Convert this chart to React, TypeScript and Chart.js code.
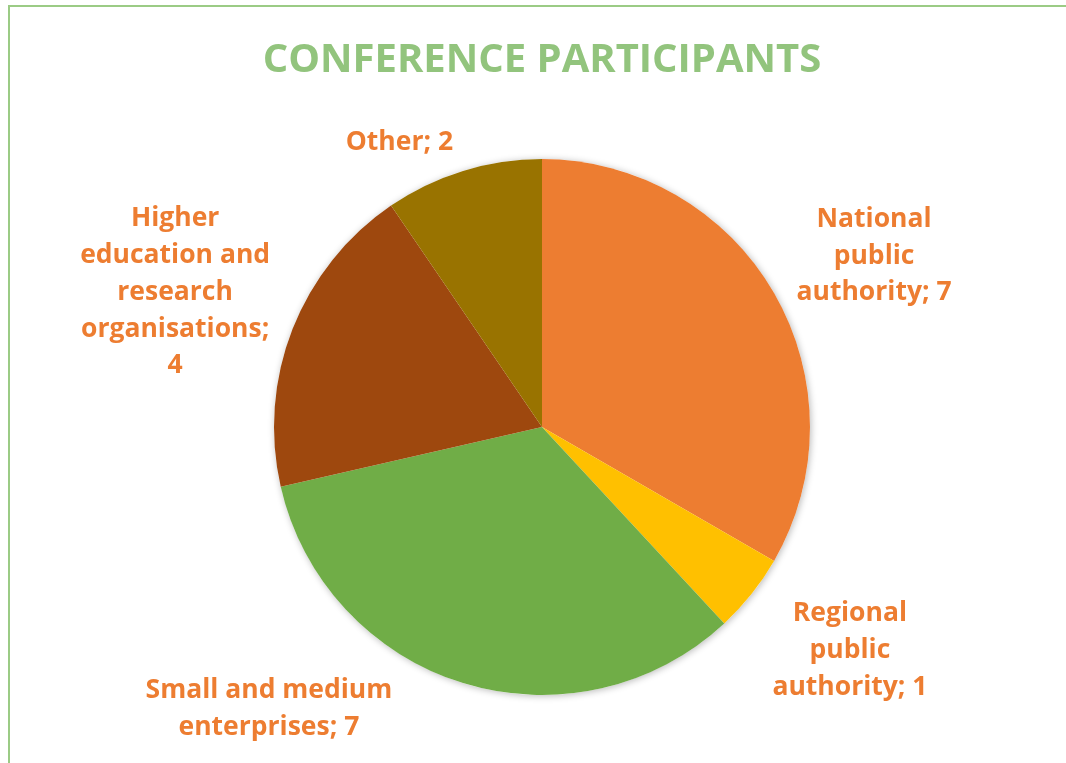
import React, { useEffect, useRef } from 'react';
import { Chart, registerables } from 'chart.js';

Chart.register(...registerables);

const titleText = 'CONFERENCE PARTICIPANTS';
const categories = [
  'National public authority',
  'Regional public authority',
  'Small and medium enterprises',
  'Higher education and research organisations',
  'Other',
];
const values = [7, 1, 7, 4, 2];
const sliceColors = ['#ED7D31', '#FFC000', '#70AD47', '#9E480E', '#997300'];
// line breaks of each data label; {v} is replaced by the value
const labelLines = [
  ['National', 'public', 'authority; {v}'],
  ['Regional', 'public', 'authority; {v}'],
  ['Small and medium', 'enterprises; {v}'],
  ['Higher', 'education and', 'research', 'organisations;', '{v}'],
  ['Other; {v}'],
];

const LABEL_COLOR = '#ED7D31';
const TITLE_COLOR = '#92C47D';
const FRAME_COLOR = '#9BCB85';

// label block centres, in units of the pie radius from the pie centre
const labelAnchors = [
  [1.239, -0.646],
  [1.149, 0.826],
  [-1.019, 1.045],
  [-1.369, -0.511],
  [-0.532, -1.069],
];

const labelPlugin = {
  id: 'pieDecor',
  beforeDatasetsDraw(chart: any) {
    const arc = chart.getDatasetMeta(0).data[0];
    if (!arc) return;
    const { x, y, outerRadius } = arc.getProps(['x', 'y', 'outerRadius'], true);
    const ctx = chart.ctx;
    ctx.save();
    ctx.shadowColor = 'rgba(0,0,0,0.28)';
    ctx.shadowBlur = 7;
    ctx.shadowOffsetX = 1;
    ctx.shadowOffsetY = 1;
    ctx.fillStyle = '#ffffff';
    ctx.beginPath();
    ctx.arc(x, y, outerRadius, 0, Math.PI * 2);
    ctx.fill();
    ctx.restore();
  },
  afterDraw(chart: any) {
    const ctx = chart.ctx;
    const meta = chart.getDatasetMeta(0);
    const arc0 = meta.data[0];
    if (!arc0) return;
    const { x, y, outerRadius } = arc0.getProps(['x', 'y', 'outerRadius'], true);

    // title
    ctx.save();
    ctx.font = 'bold 40px "Open Sans"';
    ctx.fillStyle = TITLE_COLOR;
    ctx.textAlign = 'center';
    ctx.textBaseline = 'alphabetic';
    ctx.fillText(titleText, x, 72);
    ctx.restore();

    // data labels
    const lh = 36.8;
    ctx.save();
    ctx.font = 'bold 26.5px "Open Sans"';
    ctx.fillStyle = LABEL_COLOR;
    ctx.textAlign = 'center';
    ctx.textBaseline = 'alphabetic';
    meta.data.forEach((_: any, i: number) => {
      const lines = labelLines[i].map((l) => l.replace('{v}', String(values[i])));
      const cx = x + labelAnchors[i][0] * outerRadius;
      const cy = y + labelAnchors[i][1] * outerRadius;
      const n = lines.length;
      lines.forEach((line, j) => {
        const by = cy - ((n - 1) / 2) * lh + j * lh + 9.7;
        ctx.fillText(line, cx, by);
      });
    });
    ctx.restore();
  },
};

export default function App() {
  const ref = useRef<HTMLCanvasElement | null>(null);

  useEffect(() => {
    if (!ref.current) return;
    const chart = new Chart(ref.current, {
      type: 'pie',
      data: {
        labels: categories,
        datasets: [
          {
            data: values,
            backgroundColor: sliceColors,
            borderWidth: 0,
          },
        ],
      },
      options: {
        responsive: false,
        animation: false,
        layout: { padding: { top: 159, bottom: 68, left: 274, right: 256 } },
        plugins: {
          legend: { display: false },
          tooltip: { enabled: false },
          title: { display: false },
        },
      },
      plugins: [labelPlugin],
    });
    return () => chart.destroy();
  }, []);

  return (
    <div style={{ position: 'fixed', left: 0, top: 0, width: 1066, height: 763, background: '#fff', overflow: 'hidden' }}>
      <canvas ref={ref} width={1066} height={763} style={{ position: 'absolute', left: 0, top: 0, width: 1066, height: 763 }} />
      <div
        style={{
          position: 'absolute',
          left: 8,
          top: 5,
          right: -10,
          bottom: -10,
          borderLeft: `2px solid ${FRAME_COLOR}`,
          borderTop: `2px solid ${FRAME_COLOR}`,
          pointerEvents: 'none',
        }}
      />
    </div>
  );
}
